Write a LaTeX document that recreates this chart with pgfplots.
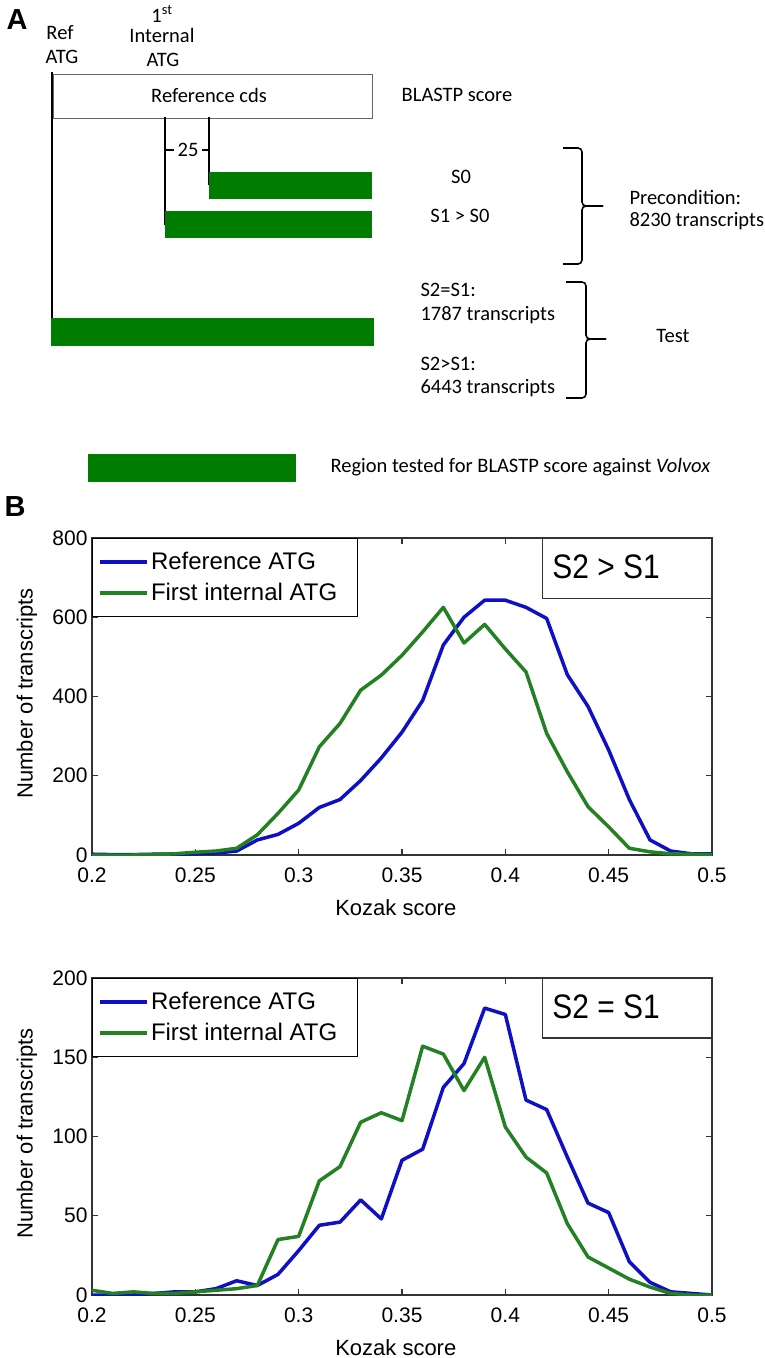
\documentclass[border=0pt]{standalone}
\usepackage{pgfplots}
\pgfplotsset{compat=1.18}
\usepackage{fontspec}
\setmainfont{Liberation Sans}
\newfontfamily\calfont{Carlito}
\newfontfamily\narrowfont{Liberation Sans}[FakeStretch=0.88]
\definecolor{mblue}{RGB}{15,15,195}
\definecolor{mgreen}{RGB}{35,128,35}
\definecolor{bargreen}{RGB}{0,125,0}

\pgfplotstableread{
x v
0.20 2
0.21 1
0.22 1
0.23 2
0.24 2
0.25 3
0.26 5
0.27 10
0.28 38
0.29 52
0.30 80
0.31 120
0.32 140
0.33 188
0.34 245
0.35 310
0.36 390
0.37 530
0.38 600
0.39 643
0.40 643
0.41 625
0.42 597
0.43 455
0.44 375
0.45 265
0.46 140
0.47 38
0.48 10
0.49 3
0.50 3
}\refA

\pgfplotstableread{
x v
0.20 0
0.21 0
0.22 0
0.23 1
0.24 3
0.25 7
0.26 10
0.27 17
0.28 51
0.29 105
0.30 164
0.31 273
0.32 332
0.33 416
0.34 454
0.35 504
0.36 563
0.37 625
0.38 535
0.39 582
0.40 520
0.41 462
0.42 307
0.43 210
0.44 122
0.45 71
0.46 17
0.47 8
0.48 3
0.49 2
0.50 1
}\intA

\pgfplotstableread{
x v
0.20 0
0.21 0
0.22 0
0.23 1
0.24 2
0.25 2
0.26 4
0.27 9
0.28 6
0.29 13
0.30 28
0.31 44
0.32 46
0.33 60
0.34 48
0.35 85
0.36 92
0.37 131
0.38 146
0.39 181
0.40 177
0.41 123
0.42 117
0.43 87
0.44 58
0.45 52
0.46 21
0.47 8
0.48 2
0.49 1
0.50 0
}\refB

\pgfplotstableread{
x v
0.20 3
0.21 1
0.22 2
0.23 1
0.24 1
0.25 2
0.26 3
0.27 4
0.28 6
0.29 35
0.30 37
0.31 72
0.32 81
0.33 109
0.34 115
0.35 110
0.36 157
0.37 152
0.38 129
0.39 150
0.40 106
0.41 87
0.42 77
0.43 45
0.44 24
0.45 17
0.46 10
0.47 5
0.48 1
0.49 0
0.50 0
}\intB

\pgfplotsset{kozak/.style={
 scale only axis, width=620pt, height=317pt, anchor=north west,
 xmin=0.2, xmax=0.5, ymin=0,
 xtick={0.2,0.25,0.3,0.35,0.4,0.45,0.5},
 xticklabels={0.2,0.25,0.3,0.35,0.4,0.45,0.5},
 tick align=inside, major tick length=6pt,
 axis line style={line width=1.2pt, black!80},
 every tick/.style={line width=1.2pt, black!80},
 tick label style={font=\fontsize{21}{25}\selectfont},
 xticklabel style={yshift=-9pt},
 yticklabel style={xshift=-1pt},
 /pgf/number format/assume math mode=true,
 xlabel={Kozak score}, ylabel={Number of transcripts},
 label style={font=\fontsize{22}{26}\selectfont},
 xlabel style={at={(axis description cs:0.49,-0.167)}, anchor=center},
 ylabel style={at={(axis description cs:-0.105,0.51)}, anchor=center},
 legend cell align=left,
 legend style={at={(0,1)}, anchor=north west, draw=black, line width=1pt,
   font=\fontsize{24}{28}\selectfont, inner xsep=6pt, inner ysep=12pt, row sep=8pt},
 legend image code/.code={\draw[#1, line width=3.5pt] (0pt,0pt) -- (47pt,0pt);},
 every axis plot/.append style={line width=3.5pt, line join=round},
}}

\begin{document}
\begin{tikzpicture}
\path[use as bounding box] (0,0) rectangle (764pt,-1358pt);

% ---------- Panel A (schematic) ----------
\begin{scope}[x=1pt,y=-1pt]
 \node[font=\fontsize{29}{32}\selectfont\bfseries] at (17,20) {A};
 \node[font=\fontsize{29}{32}\selectfont\bfseries] at (15,507) {B};
 \begin{scope}[font=\calfont\fontsize{20.5}{24}\selectfont]
  \node at (60,33) {Ref};
  \node at (62,57) {ATG};
  \node at (162,14) {1\textsuperscript{st}};
  \node at (162,35) {Internal};
  \node at (163,60) {ATG};
  \draw[line width=0.9pt, black!60] (53,74) rectangle (372,118);
  \node at (209,95) {Reference cds};
  \draw[line width=2pt] (52,72) -- (52,330);
  \draw[line width=2pt] (165,117) -- (165,225);
  \draw[line width=2pt] (209,117) -- (209,185);
  \draw[line width=1.5pt] (165,150) -- (174,150);
  \draw[line width=1.5pt] (202,150) -- (209,150);
  \node at (188,150) {25};
  \fill[bargreen] (209,172) rectangle (372,199);
  \fill[bargreen] (165,211) rectangle (372,238);
  \fill[bargreen] (51,318) rectangle (374,346);
  \fill[bargreen] (88,454) rectangle (296,482);
  \node at (457,95) {BLASTP score};
  \node at (461,177) {S0};
  \node at (460,216) {S1 > S0};
  \draw[line width=1.6pt, rounded corners=4pt] (563,148) -- (582,148) -- (582,206) -- (603,206);
  \draw[line width=1.6pt, rounded corners=4pt] (603,206) -- (582,206) -- (582,264) -- (563,264);
  \node[anchor=west] at (626,197) {Precondition:};
  \node[anchor=west] at (626,221) {8230 transcripts};
  \draw[line width=1.6pt, rounded corners=4pt] (566,282) -- (586,282) -- (586,339) -- (606,339);
  \draw[line width=1.6pt, rounded corners=4pt] (606,339) -- (586,339) -- (586,398) -- (566,398);
  \node[anchor=west] at (417,290) {S2=S1:};
  \node[anchor=west] at (417,315) {1787 transcripts};
  \node[anchor=west] at (417,364) {S2>S1:};
  \node[anchor=west] at (417,388) {6443 transcripts};
  \node at (673,336) {Test};
  \node[anchor=west] at (327,467) {Region tested for BLASTP score against \textit{Volvox}};
 \end{scope}
\end{scope}

% ---------- Panel B top ----------
\begin{axis}[kozak, at={(92pt,-538pt)}, ymax=800, ytick={0,200,400,600,800}]
 \addplot[mblue] table[x=x,y=v] {\refA};
 \addlegendentry{Reference ATG}
 \addplot[mgreen] table[x=x,y=v] {\intA};
 \addlegendentry{First internal ATG\hspace*{12pt}}
 \draw[line width=1.2pt, black!80, fill=white] (rel axis cs:0.726,1) rectangle (rel axis cs:1,0.808);
 \node[anchor=west, font=\narrowfont\fontsize{34}{38}\selectfont] at (rel axis cs:0.737,0.9085) {S2 > S1};
\end{axis}

% ---------- Panel B bottom ----------
\begin{axis}[kozak, at={(92pt,-978pt)}, ymax=200, ytick={0,50,100,150,200}]
 \addplot[mblue] table[x=x,y=v] {\refB};
 \addlegendentry{Reference ATG}
 \addplot[mgreen] table[x=x,y=v] {\intB};
 \addlegendentry{First internal ATG\hspace*{12pt}}
 \draw[line width=1.2pt, black!80, fill=white] (rel axis cs:0.726,1) rectangle (rel axis cs:1,0.811);
 \node[anchor=west, font=\narrowfont\fontsize{34}{38}\selectfont] at (rel axis cs:0.737,0.9085) {S2 = S1};
\end{axis}
\end{tikzpicture}
\end{document}
